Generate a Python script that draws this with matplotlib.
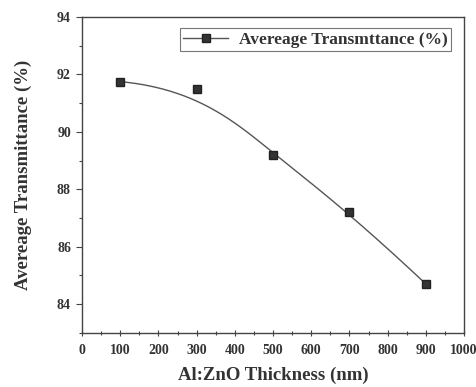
import numpy as np
import matplotlib
matplotlib.use('Agg')
import matplotlib.pyplot as plt
from matplotlib.ticker import MultipleLocator

# data
thickness = [100, 300, 500, 700, 900]
transmittance = [91.75, 91.5, 89.2, 87.2, 84.7]

plt.rcParams['font.family'] = ['Liberation Serif']
plt.rcParams['font.weight'] = 'bold'
plt.rcParams['axes.labelweight'] = 'bold'
ink = '#333333'


def bspline(px, py, n=300, k=3):
    """clamped B-spline using the data points as control points"""
    m = len(px)
    inner = np.linspace(0, 1, m - k + 1)[1:-1]
    knots = np.concatenate([np.zeros(k + 1), inner, np.ones(k + 1)])
    t = np.linspace(0, 1, n)
    t[-1] -= 1e-9
    # degree-0 basis
    B = np.array([(t >= knots[i]) & (t < knots[i + 1]) for i in range(len(knots) - 1)], float)
    for d in range(1, k + 1):
        nb = np.zeros((len(knots) - 1 - d, n))
        for i in range(len(knots) - 1 - d):
            a = knots[i + d] - knots[i]
            b = knots[i + d + 1] - knots[i + 1]
            if a > 0:
                nb[i] += (t - knots[i]) / a * B[i]
            if b > 0:
                nb[i] += (knots[i + d + 1] - t) / b * B[i + 1]
        B = nb
    return B.T @ np.asarray(px, float), B.T @ np.asarray(py, float)


fig = plt.figure(figsize=(4.77, 3.87), dpi=100)
ax = fig.add_axes([0.172, 0.140, 0.801, 0.816])

cx, cy = bspline(thickness, transmittance)
ax.plot(cx, cy, color='#555555', lw=1.0)
ax.plot(thickness, transmittance, ls='none', marker='s', ms=6,
        mfc='#333333', mec='#222222')

# legend proxy (line + marker)
ax.plot([], [], color='#555555', lw=1.0, marker='s', ms=6, mfc='#333333',
        mec='#222222', label='Avereage Transmttance (%)')
leg = ax.legend(loc='upper right', fontsize=12.5, frameon=True, fancybox=False,
                edgecolor='#555555', handlelength=2.6, borderpad=0.2,
                handletextpad=0.6, borderaxespad=0,
                bbox_to_anchor=(0.966, 0.965))
leg.get_frame().set_linewidth(0.8)
for t in leg.get_texts():
    t.set_color(ink)

ax.set_xlim(0, 1000)
ax.set_ylim(83, 94)
ax.xaxis.set_major_locator(MultipleLocator(100))
ax.xaxis.set_minor_locator(MultipleLocator(50))
ax.yaxis.set_major_locator(MultipleLocator(2))
ax.yaxis.set_minor_locator(MultipleLocator(1))
ax.tick_params(axis='both', which='major', labelsize=10, colors='#444444',
               labelcolor=ink, length=4, width=0.8)
ax.tick_params(axis='both', which='minor', length=2.5, width=0.8,
               colors='#444444')
ax.tick_params(axis='x', which='both', direction='inout', pad=6)
ax.tick_params(axis='y', which='both', direction='out', pad=4)
for s in ax.spines.values():
    s.set_color('#444444')
    s.set_linewidth(1.0)

ax.set_xlabel('Al:ZnO Thickness (nm)', fontsize=13.5, color=ink, labelpad=7)
ax.set_ylabel('Avereage Transmittance (%)', fontsize=13.5, color=ink, labelpad=18)

fig.savefig('out.png', dpi=100)
